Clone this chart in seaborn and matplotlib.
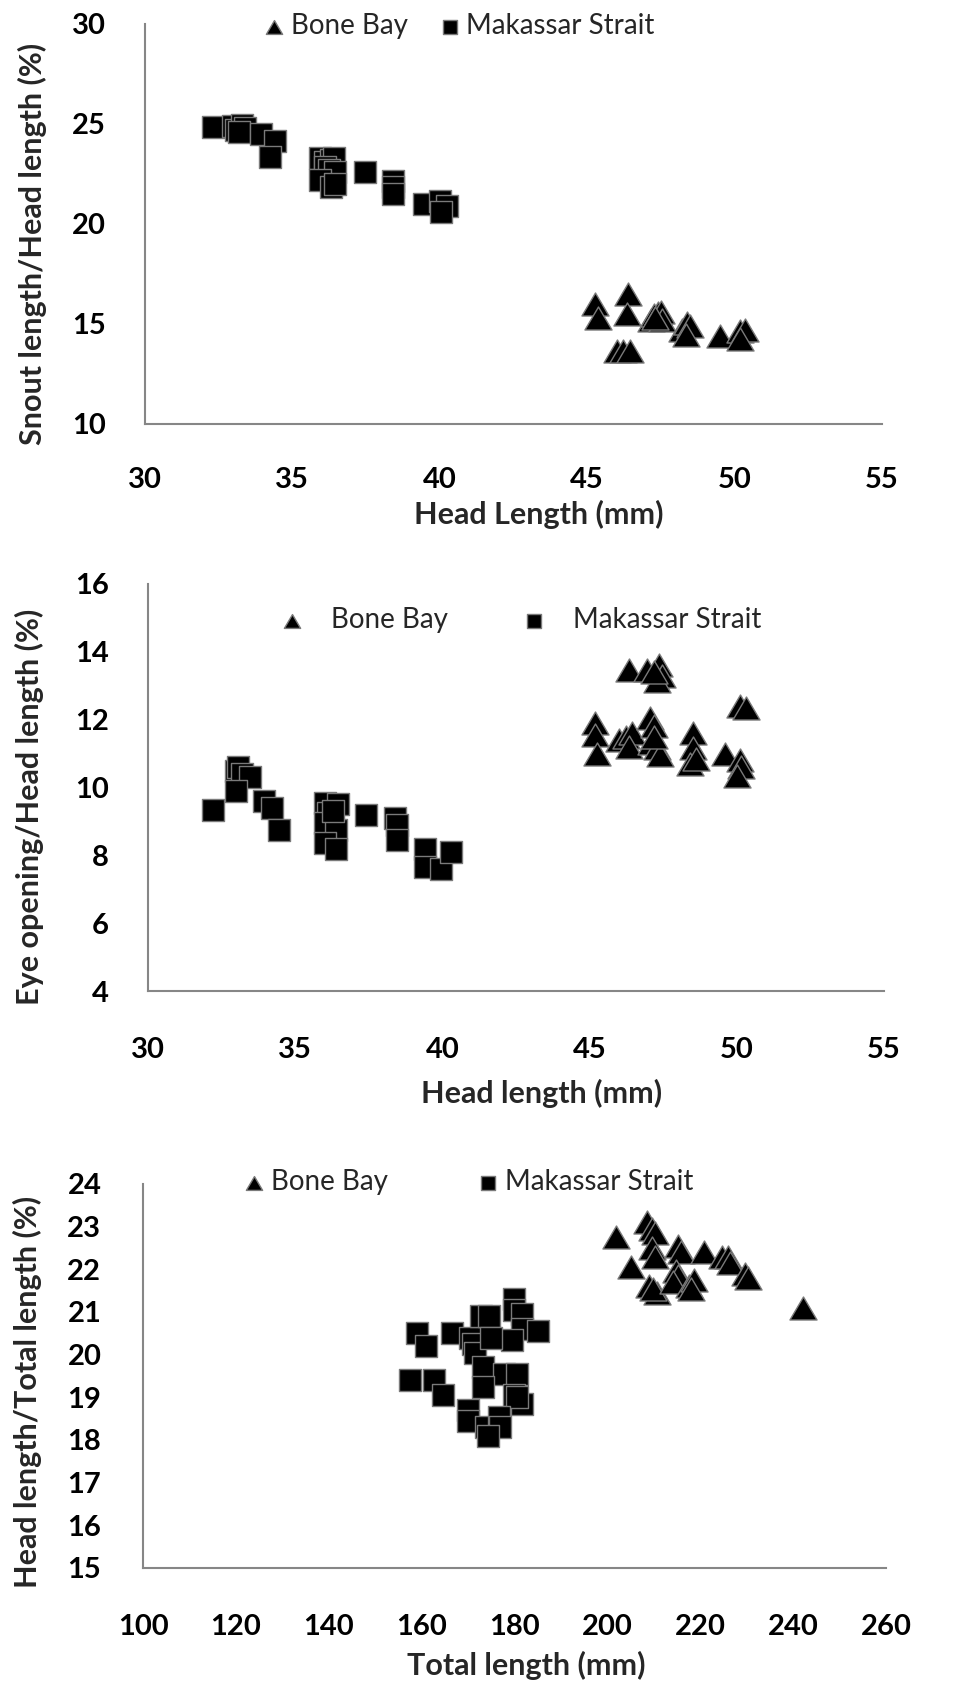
import matplotlib
matplotlib.use("Agg")
import matplotlib.pyplot as plt
import matplotlib.path as mpath
import pandas as pd
import seaborn as sns

# ── data ────────────────────────────────────────────────────────────────────

# panel 1: head length (mm) vs snout length / head length (%)
bone_hl_1 = [45.25, 45.35, 46.4, 46.35, 46.0, 46.2, 46.45, 47.15, 47.25, 47.4,
             47.5, 47.55, 47.3, 48.2, 48.4, 48.5, 48.35, 49.5, 50.2, 50.35, 50.2]
bone_snout = [16.0, 15.3, 16.5, 15.5, 13.65, 13.65, 13.65, 15.2, 15.45, 15.55,
              15.6, 15.2, 15.3, 14.7, 15.05, 14.9, 14.45, 14.4, 14.65, 14.7, 14.25]
mak_hl_1 = [32.3, 33.0, 33.1, 33.3, 33.4, 33.2, 33.95, 34.4, 34.25,
            35.95, 36.1, 36.3, 36.4, 36.1, 36.25, 36.45, 35.95, 36.3, 36.45,
            37.45, 38.4, 38.4, 38.4, 39.45, 40.0, 40.25, 40.05]
mak_snout = [24.85, 24.9, 24.7, 24.95, 24.8, 24.6, 24.5, 24.15, 23.35,
             23.3, 23.1, 23.2, 23.3, 22.85, 22.7, 22.6, 22.2, 21.85, 22.0,
             22.6, 22.15, 21.85, 21.5, 21.0, 21.15, 20.9, 20.6]

# panel 2: head length (mm) vs eye opening / head length (%)
bone_hl_2 = [46.35, 46.95, 47.35, 47.45, 47.3, 47.2, 50.1, 50.3, 45.2, 45.2,
             45.25, 46.0, 46.25, 46.45, 46.35, 47.05, 47.2, 47.1, 47.3, 47.4,
             47.2, 48.5, 48.5, 48.4, 48.6, 49.6, 50.1, 50.15, 50.0]
bone_eye = [13.45, 13.45, 13.6, 13.3, 13.15, 13.4, 12.4, 12.35, 11.9, 11.55,
            11.0, 11.4, 11.5, 11.6, 11.2, 12.05, 11.8, 11.3, 11.15, 10.95,
            11.5, 11.6, 11.15, 10.7, 10.85, 11.0, 10.8, 10.6, 10.35]
mak_hl_2 = [32.2, 33.0, 33.05, 33.2, 33.45, 33.0, 33.95, 34.2, 34.45,
            36.0, 36.1, 36.0, 36.4, 36.0, 36.4, 36.45, 36.3,
            37.4, 38.4, 38.45, 38.45, 39.4, 39.4, 39.95, 40.3]
mak_eye = [9.35, 10.5, 10.6, 10.4, 10.3, 9.9, 9.6, 9.4, 8.75,
           9.55, 9.25, 8.95, 8.75, 8.35, 8.2, 9.5, 9.3,
           9.2, 9.1, 8.9, 8.45, 8.2, 7.65, 7.6, 8.1]

# panel 3: total length (mm) vs head length / total length (%)
bone_tl = [201.8, 208.5, 209.6, 210.2, 209.6, 210.2, 215.2, 215.8, 220.8,
           224.7, 225.9, 226.4, 229.7, 230.3, 205.1, 209.0, 210.7, 209.8,
           214.7, 215.2, 214.2, 217.5, 218.6, 218.0, 242.1]
bone_ratio = [22.75, 23.1, 22.95, 22.85, 22.5, 22.3, 22.55, 22.4, 22.4,
              22.3, 22.3, 22.15, 21.9, 21.8, 22.05, 21.6, 21.45, 21.55,
              21.95, 21.85, 21.7, 21.6, 21.75, 21.55, 21.1]
mak_tl = [159.1, 161.0, 166.6, 170.5, 171.0, 171.6, 172.7, 174.6, 179.8,
          179.8, 181.7, 181.7, 185.0, 179.4, 174.9, 157.6, 162.6, 164.7,
          173.3, 177.7, 180.5, 173.3, 179.8, 181.7, 180.5, 170.0, 170.0,
          173.8, 176.6, 176.8, 174.4]
mak_ratio = [20.5, 20.2, 20.5, 20.4, 20.25, 20.05, 20.9, 20.9, 21.3,
             21.05, 20.95, 20.6, 20.55, 20.35, 20.4, 19.4, 19.4, 19.05,
             19.7, 19.55, 19.55, 19.25, 19.05, 18.85, 19.0, 18.7, 18.45,
             18.3, 18.55, 18.3, 18.1]

SITES = ["Bone Bay", "Makassar Strait"]

# ── style ───────────────────────────────────────────────────────────────────

sns.set_theme(style="white")
plt.rcParams["font.family"] = ["Lato", "DejaVu Sans"]

W, H = 960, 1688
GREY = "#868686"
TRIANGLE = mpath.Path([(0, 0.85), (-1, -0.85), (1, -0.85), (0, 0.85)],
                      [1, 2, 2, 79])

fig = plt.figure(figsize=(W / 100, H / 100), dpi=100)


def add_axes(box):
    """box = (left, top, right, bottom) in pixels."""
    l, t, r, b = box
    return fig.add_axes([l / W, 1 - b / H, (r - l) / W, (b - t) / H])


def panel(box, bone, mak, xlim, xticks, ylim, yticks, xlabel, ylabel,
          xlab_px, ylab_px, leg_px, leg_kw, xpad, ypad):
    ax = add_axes(box)
    l, t, r, b = box
    sns.scatterplot(x=bone[0], y=bone[1], ax=ax, marker=TRIANGLE, s=380,
                    color="black", edgecolor="#7a7a7a", linewidth=1,
                    label=SITES[0])
    sns.scatterplot(x=mak[0], y=mak[1], ax=ax, marker="s", s=255,
                    color="black", edgecolor="#7a7a7a", linewidth=1,
                    label=SITES[1])
    ax.set_xlim(xlim)
    ax.set_ylim(ylim)
    ax.set_xticks(xticks)
    ax.set_yticks(yticks)
    sns.despine(ax=ax)
    for side in ("left", "bottom"):
        ax.spines[side].set_color(GREY)
        ax.spines[side].set_linewidth(1.5)
    ax.tick_params(axis="both", direction="out", length=12, width=1.5,
                   color=GREY, labelsize=21, labelcolor="black")
    ax.tick_params(axis="x", pad=xpad)
    ax.tick_params(axis="y", pad=ypad)
    plt.setp(ax.get_xticklabels() + ax.get_yticklabels(), fontweight="bold")

    ax.set_xlabel(xlabel, fontsize=22, fontweight="bold", va="center")
    ax.set_ylabel(ylabel, fontsize=22, fontweight="bold", va="center")
    ax.xaxis.set_label_coords((xlab_px[0] - l) / (r - l),
                              (b - xlab_px[1]) / (b - t))
    ax.yaxis.set_label_coords((ylab_px[0] - l) / (r - l),
                              (b - ylab_px[1]) / (b - t))

    ax.legend(loc="center left",
              bbox_to_anchor=(leg_px[0] / W, 1 - leg_px[1] / H),
              bbox_transform=fig.transFigure, ncol=2, frameon=False,
              fontsize=20, borderpad=0, borderaxespad=0, **leg_kw)
    return ax


panel((145, 24, 882, 424), (bone_hl_1, bone_snout), (mak_hl_1, mak_snout),
      (30, 55), range(30, 56, 5), (10, 30), range(10, 31, 5),
      "Head Length (mm)", "Snout length/Head length (%)",
      (539, 514), (32, 244), (266, 26),
      dict(markerscale=0.6, handlelength=0.6, handletextpad=0.3,
           columnspacing=1.2), xpad=19, ypad=16)

panel((148, 584, 884, 991), (bone_hl_2, bone_eye), (mak_hl_2, mak_eye),
      (30, 55), range(30, 56, 5), (4, 16), range(4, 17, 2),
      "Head length (mm)", "Eye opening/Head length (%)",
      (542, 1093), (29, 807), (284, 620),
      dict(markerscale=0.6, handlelength=0.6, handletextpad=1.1,
           columnspacing=2.8), xpad=21, ypad=16)

panel((143, 1184, 886, 1568), (bone_tl, bone_ratio), (mak_tl, mak_ratio),
      (100, 260), range(100, 261, 20), (15, 24), range(15, 25, 1),
      "Total length (mm)", "Head length/Total length (%)",
      (526, 1665), (27, 1392), (246, 1182),
      dict(markerscale=0.6, handlelength=0.6, handletextpad=0.3,
           columnspacing=3.3), xpad=21, ypad=18)

fig.savefig("out.png", dpi=100, facecolor="white")
